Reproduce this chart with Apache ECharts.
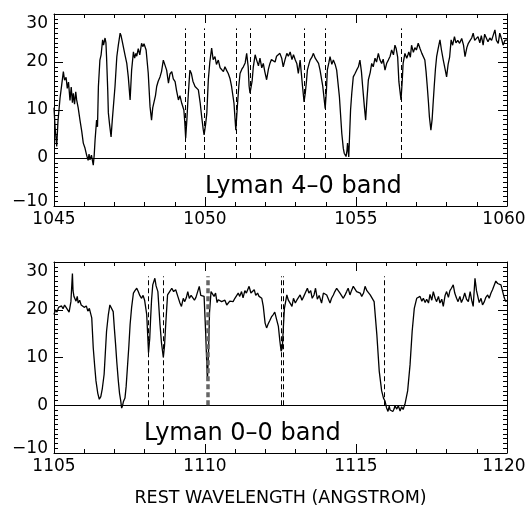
<!DOCTYPE html>
<html>
<head>
<meta charset="utf-8">
<script src="https://cdn.jsdelivr.net/npm/echarts@6.0.0/dist/echarts.min.js"></script>
<style>
html,body{margin:0;padding:0;background:#fff;}
#chart{width:531px;height:508px;}
</style>
</head>
<body>
<div id="chart"></div>
<script>
// ---- data ----
const topRange = [1045, 1060];
const bottomRange = [1105, 1120];
const fluxRange = [-10, 30];
const topLabel = 'Lyman 4–0 band';
const bottomLabel = 'Lyman 0–0 band';
const xTitle = 'REST WAVELENGTH (ANGSTROM)';

// wavelength (Å), flux
const topSpectrum = [
[1045.00,10.5],[1045.04,6.0],[1045.09,2.4],[1045.13,7.5],[1045.20,12.5],[1045.26,15.5],[1045.31,18.0],[1045.35,16.2],
[1045.40,16.8],[1045.44,14.5],[1045.48,15.8],[1045.53,12.0],[1045.57,14.8],[1045.61,11.5],[1045.64,13.5],[1045.68,11.2],
[1045.72,13.8],[1045.75,12.1],[1045.80,10.5],[1045.86,7.9],[1045.92,5.5],[1045.97,3.1],[1046.02,2.2],[1046.08,0.6],
[1046.13,-0.5],[1046.16,0.8],[1046.19,-0.4],[1046.24,0.6],[1046.30,-1.5],[1046.33,0.5],[1046.36,3.75],[1046.41,7.9],
[1046.44,6.5],[1046.47,14.9],[1046.52,20.4],[1046.56,21.5],[1046.61,24.6],[1046.64,23.5],[1046.69,25.0],[1046.72,24.0],
[1046.74,21.1],[1046.78,14.0],[1046.80,9.4],[1046.84,7.0],[1046.89,4.4],[1046.93,7.9],[1046.96,7.5],[1047.02,14.9],
[1047.08,21.1],[1047.13,23.5],[1047.19,26.0],[1047.22,25.5],[1047.26,24.3],[1047.30,23.9],[1047.35,21.5],[1047.41,19.7],
[1047.46,16.9],[1047.52,12.1],[1047.57,18.3],[1047.63,22.1],[1047.67,20.8],[1047.71,21.8],[1047.74,21.2],[1047.79,22.8],
[1047.84,21.5],[1047.90,23.9],[1047.94,23.2],[1047.98,23.8],[1048.01,23.5],[1048.05,22.5],[1048.07,22.5],[1048.12,17.7],
[1048.18,10.7],[1048.23,7.9],[1048.27,10.5],[1048.31,10.4],[1048.36,13.0],[1048.40,14.9],[1048.45,16.0],[1048.51,16.9],
[1048.56,18.0],[1048.62,20.4],[1048.68,20.8],[1048.73,18.3],[1048.79,15.6],[1048.84,17.5],[1048.90,18.0],[1048.95,16.5],
[1049.01,15.9],[1049.06,14.0],[1049.12,12.1],[1049.17,13.0],[1049.23,11.4],[1049.30,10.0],[1049.33,7.5],[1049.36,4.1],
[1049.40,8.0],[1049.43,11.5],[1049.47,15.5],[1049.50,18.3],[1049.55,17.6],[1049.60,16.0],[1049.67,14.9],[1049.72,14.5],
[1049.78,14.2],[1049.84,11.5],[1049.89,8.6],[1049.94,6.0],[1049.97,4.8],[1050.02,7.0],[1050.06,9.3],[1050.11,16.3],
[1050.16,20.0],[1050.22,22.9],[1050.27,20.5],[1050.33,21.1],[1050.38,19.5],[1050.44,20.4],[1050.50,18.8],[1050.55,19.0],
[1050.61,18.0],[1050.66,19.0],[1050.72,18.2],[1050.77,17.6],[1050.83,16.5],[1050.88,14.9],[1050.96,11.4],[1051.02,5.8],
[1051.08,11.5],[1051.12,15.0],[1051.16,17.6],[1051.22,18.5],[1051.27,19.0],[1051.33,19.8],[1051.38,21.8],[1051.43,19.0],
[1051.46,15.0],[1051.49,13.5],[1051.53,13.2],[1051.56,16.0],[1051.60,19.0],[1051.66,21.5],[1051.71,20.4],[1051.77,19.2],
[1051.82,20.8],[1051.88,18.8],[1051.93,19.7],[1051.98,18.0],[1052.04,16.3],[1052.10,18.5],[1052.15,19.7],[1052.20,20.5],
[1052.26,20.8],[1052.32,20.0],[1052.37,21.2],[1052.43,21.5],[1052.48,21.8],[1052.54,20.8],[1052.59,19.0],[1052.65,20.5],
[1052.71,21.8],[1052.76,21.2],[1052.82,22.1],[1052.88,20.5],[1052.93,21.5],[1052.99,20.4],[1053.04,19.7],[1053.09,17.6],
[1053.15,20.4],[1053.23,14.9],[1053.28,11.7],[1053.32,13.5],[1053.36,16.0],[1053.39,18.3],[1053.44,19.5],[1053.48,20.4],
[1053.54,21.0],[1053.59,21.8],[1053.65,20.8],[1053.70,21.1],[1053.76,19.7],[1053.81,18.3],[1053.90,14.9],[1053.98,10.3],
[1054.02,14.0],[1054.05,18.3],[1054.10,19.8],[1054.14,21.1],[1054.20,19.5],[1054.25,20.4],[1054.31,19.5],[1054.36,18.3],
[1054.45,12.8],[1054.53,5.1],[1054.58,2.0],[1054.61,1.0],[1054.67,0.3],[1054.70,1.5],[1054.72,3.1],[1054.76,0.2],
[1054.82,10.0],[1054.86,13.5],[1054.91,16.9],[1054.96,17.5],[1055.02,18.3],[1055.08,19.0],[1055.13,20.4],[1055.18,18.0],
[1055.22,14.9],[1055.28,10.5],[1055.32,7.9],[1055.36,12.0],[1055.41,16.3],[1055.47,17.8],[1055.52,19.7],[1055.57,19.0],
[1055.63,20.8],[1055.68,20.0],[1055.74,21.8],[1055.79,20.5],[1055.85,19.7],[1055.90,20.6],[1055.96,18.3],[1056.02,19.8],
[1056.07,20.4],[1056.13,21.2],[1056.18,22.5],[1056.24,21.5],[1056.29,23.5],[1056.33,22.8],[1056.38,21.0],[1056.42,15.9],
[1056.49,12.1],[1056.53,16.0],[1056.56,19.7],[1056.62,21.8],[1056.68,20.8],[1056.72,21.5],[1056.75,22.1],[1056.80,21.0],
[1056.84,23.5],[1056.90,22.0],[1056.95,23.0],[1057.00,22.5],[1057.06,23.9],[1057.12,22.8],[1057.18,21.8],[1057.23,21.5],
[1057.28,20.4],[1057.32,18.0],[1057.36,14.9],[1057.40,11.5],[1057.43,8.6],[1057.48,5.8],[1057.52,8.0],[1057.55,11.0],
[1057.59,14.9],[1057.63,18.5],[1057.67,21.1],[1057.72,22.8],[1057.78,24.6],[1057.83,22.5],[1057.89,20.4],[1057.95,18.5],
[1058.00,16.9],[1058.05,19.5],[1058.10,21.0],[1058.15,24.6],[1058.20,23.5],[1058.26,25.3],[1058.31,24.0],[1058.37,24.5],
[1058.43,23.9],[1058.50,24.9],[1058.56,23.5],[1058.61,21.1],[1058.67,23.0],[1058.72,23.9],[1058.78,24.5],[1058.83,25.0],
[1058.88,26.0],[1058.93,24.5],[1058.99,24.8],[1059.04,25.3],[1059.10,24.0],[1059.15,25.5],[1059.21,23.5],[1059.26,25.8],
[1059.32,26.0],[1059.37,24.2],[1059.43,25.0],[1059.49,24.5],[1059.54,25.5],[1059.60,26.7],[1059.65,24.5],[1059.71,23.9],
[1059.76,26.0],[1059.82,24.8],[1059.87,23.5],[1059.93,24.5],[1060.00,24.6]
];

const bottomSpectrum = [
[1105.00,19.0],[1105.05,20.0],[1105.10,19.5],[1105.15,20.5],[1105.20,20.3],[1105.25,20.8],[1105.30,20.2],[1105.35,21.0],
[1105.40,20.5],[1105.45,20.7],[1105.50,19.5],[1105.56,21.7],[1105.61,27.6],[1105.63,24.0],[1105.66,22.8],[1105.70,23.2],
[1105.73,21.8],[1105.77,22.8],[1105.80,21.4],[1105.85,22.0],[1105.90,21.0],[1105.95,21.3],[1106.00,20.5],[1106.03,20.3],
[1106.07,20.8],[1106.12,19.7],[1106.17,20.3],[1106.21,20.0],[1106.25,18.3],[1106.30,12.0],[1106.35,8.0],[1106.39,5.1],
[1106.45,2.5],[1106.50,1.25],[1106.55,1.8],[1106.60,3.5],[1106.66,6.5],[1106.70,11.0],[1106.74,15.5],[1106.80,19.0],
[1106.85,21.0],[1106.90,21.4],[1106.96,19.6],[1107.00,16.0],[1107.04,12.7],[1107.08,9.0],[1107.13,5.1],[1107.17,2.5],
[1107.21,0.9],[1107.24,-0.6],[1107.27,-0.1],[1107.30,0.8],[1107.35,1.5],[1107.39,4.0],[1107.43,7.8],[1107.48,12.5],
[1107.52,16.9],[1107.57,20.5],[1107.63,23.5],[1107.68,24.0],[1107.74,24.5],[1107.79,23.8],[1107.84,23.0],[1107.90,22.4],
[1107.95,23.0],[1108.00,22.0],[1108.07,19.0],[1108.13,11.0],[1108.17,14.0],[1108.20,18.3],[1108.23,22.0],[1108.27,25.2],
[1108.34,26.6],[1108.38,25.0],[1108.44,23.8],[1108.51,16.9],[1108.56,13.0],[1108.62,10.0],[1108.66,12.5],[1108.70,17.0],
[1108.76,23.1],[1108.83,23.8],[1108.90,24.5],[1108.96,23.8],[1109.03,24.2],[1109.10,22.8],[1109.17,21.4],[1109.22,20.7],
[1109.28,22.4],[1109.33,21.7],[1109.38,22.5],[1109.43,23.8],[1109.48,22.4],[1109.54,23.0],[1109.60,23.1],[1109.65,22.0],
[1109.70,22.6],[1109.75,22.3],[1109.81,24.9],[1109.86,23.0],[1109.92,23.1],[1109.97,22.8],[1110.02,15.5],[1110.08,5.1],
[1110.12,12.0],[1110.15,19.5],[1110.20,23.8],[1110.25,24.2],[1110.30,22.8],[1110.35,23.5],[1110.40,21.5],[1110.44,22.1],
[1110.50,22.0],[1110.55,21.7],[1110.61,21.4],[1110.66,22.0],[1110.72,21.0],[1110.77,21.4],[1110.82,21.8],[1110.88,22.1],
[1110.93,21.7],[1110.99,22.4],[1111.04,22.1],[1111.10,23.5],[1111.15,22.8],[1111.21,23.8],[1111.26,22.5],[1111.32,24.0],
[1111.37,23.5],[1111.46,24.9],[1111.52,23.5],[1111.57,23.8],[1111.63,24.2],[1111.68,23.0],[1111.74,23.5],[1111.79,22.8],
[1111.88,22.4],[1111.93,20.7],[1111.99,17.2],[1112.04,16.2],[1112.09,17.0],[1112.15,17.8],[1112.20,18.5],[1112.26,19.0],
[1112.31,19.5],[1112.37,18.0],[1112.43,16.5],[1112.48,13.4],[1112.52,11.3],[1112.56,12.0],[1112.60,17.0],[1112.63,20.3],
[1112.71,23.1],[1112.76,22.0],[1112.82,21.7],[1112.88,20.7],[1112.93,22.4],[1112.99,21.4],[1113.04,22.0],[1113.10,22.4],
[1113.15,23.1],[1113.21,22.0],[1113.27,22.8],[1113.32,23.5],[1113.39,24.5],[1113.44,23.5],[1113.50,24.0],[1113.55,22.4],
[1113.61,23.1],[1113.66,24.5],[1113.72,22.2],[1113.78,23.0],[1113.86,21.4],[1113.92,23.5],[1113.97,23.8],[1114.03,23.1],
[1114.08,22.8],[1114.14,21.4],[1114.19,22.4],[1114.25,23.1],[1114.30,23.8],[1114.36,24.5],[1114.41,24.2],[1114.47,23.5],
[1114.52,23.1],[1114.58,22.4],[1114.63,23.0],[1114.69,23.8],[1114.74,24.5],[1114.80,23.1],[1114.85,24.0],[1114.91,24.9],
[1114.96,24.5],[1115.02,23.8],[1115.08,24.2],[1115.14,23.5],[1115.19,22.8],[1115.25,23.5],[1115.30,24.9],[1115.36,24.0],
[1115.41,23.8],[1115.47,23.1],[1115.53,22.8],[1115.60,21.7],[1115.69,14.8],[1115.77,7.1],[1115.85,3.0],[1115.91,1.5],
[1115.96,0.9],[1116.01,-0.5],[1116.06,-1.3],[1116.10,-0.2],[1116.13,-1.0],[1116.18,-0.6],[1116.22,-1.3],[1116.26,-0.8],
[1116.29,-0.1],[1116.35,-0.8],[1116.40,-0.1],[1116.46,-1.2],[1116.51,-0.3],[1116.56,-0.9],[1116.62,0.2],[1116.71,3.0],
[1116.79,8.5],[1116.86,15.5],[1116.93,20.3],[1117.01,22.4],[1117.07,22.0],[1117.12,22.8],[1117.18,21.8],[1117.23,22.4],
[1117.29,21.5],[1117.34,22.2],[1117.40,21.4],[1117.45,23.2],[1117.51,22.0],[1117.56,23.8],[1117.62,22.4],[1117.67,21.7],
[1117.73,22.8],[1117.78,21.4],[1117.84,22.2],[1117.89,20.7],[1117.95,23.0],[1118.00,23.8],[1118.06,22.6],[1118.11,24.0],
[1118.16,24.5],[1118.22,25.2],[1118.27,23.5],[1118.33,22.4],[1118.38,21.7],[1118.44,22.8],[1118.49,21.5],[1118.55,22.4],
[1118.60,23.5],[1118.66,22.2],[1118.72,21.7],[1118.78,23.8],[1118.83,22.0],[1118.88,20.7],[1118.94,26.6],[1118.99,24.0],
[1119.03,23.8],[1119.08,21.5],[1119.14,22.4],[1119.19,21.0],[1119.25,21.7],[1119.30,22.6],[1119.36,23.1],[1119.41,22.4],
[1119.47,23.5],[1119.52,24.2],[1119.58,24.5],[1119.63,26.0],[1119.69,25.5],[1119.74,25.9],[1119.80,25.2],[1119.85,24.9],
[1119.91,22.5],[1119.96,21.7],[1120.00,22.0]
];

// positions of dashed line markers (Å) and their top (flux)
const topMarkers = [1049.36, 1049.97, 1051.03, 1051.49, 1053.29, 1053.98, 1056.49];
const bottomMarkers = [1108.12, 1108.63, 1112.52, 1112.59, 1115.92];
const bottomGreyMarkers = [1110.08];
const markerTop = 27;

// ---- chart ----
const FONT = 'DejaVu Sans';
const chart = echarts.init(document.getElementById('chart'), null, {renderer: 'canvas'});

function xAxes(gi, range, name) {
  const common = {
    gridIndex: gi, type: 'value', min: range[0], max: range[1], interval: 5,
    axisLine: {onZero: false, lineStyle: {color: '#000', width: 1}},
    axisTick: {inside: true, length: 9, lineStyle: {color: '#000'}},
    minorTick: {show: true, splitNumber: 5, length: 4, lineStyle: {color: '#000'}},
    splitLine: {show: false}, minorSplitLine: {show: false}
  };
  return [
    Object.assign({}, common, {
      position: 'bottom',
      name: name || '', nameLocation: 'middle', nameGap: 36,
      nameTextStyle: {fontFamily: FONT, fontSize: 17.5, color: '#000'},
      axisLabel: {
        margin: 5, fontFamily: FONT, fontSize: 17, color: '#000',
        formatter: v => v === range[1] ? '{r|' + v + '}' : '{n|' + v + '}',
        rich: {
          n: {fontFamily: FONT, fontSize: 17, color: '#000'},
          r: {fontFamily: FONT, fontSize: 17, color: '#000', padding: [0, 6, 0, 0]}
        }
      }
    }),
    Object.assign({}, common, {position: 'top', axisLabel: {show: false}})
  ];
}
function yAxes(gi) {
  const common = {
    gridIndex: gi, type: 'value', min: fluxRange[0], max: fluxRange[1], interval: 10,
    axisLine: {onZero: false, lineStyle: {color: '#000', width: 1}},
    axisTick: {inside: true, length: 9, lineStyle: {color: '#000'}},
    minorTick: {show: true, splitNumber: 10, length: 4, lineStyle: {color: '#000'}},
    splitLine: {show: false}, minorSplitLine: {show: false}
  };
  return [
    Object.assign({}, common, {
      position: 'left',
      axisLabel: {
        margin: 6, fontFamily: FONT, fontSize: 17, color: '#000',
        formatter: v => {
          const s = String(v).replace('-', '−');
          if (v === fluxRange[1]) return '{t|' + s + '}';
          if (v === fluxRange[0]) return '{b|' + s + '}';
          return '{n|' + s + '}';
        },
        rich: {
          n: {fontFamily: FONT, fontSize: 17, color: '#000'},
          t: {fontFamily: FONT, fontSize: 17, color: '#000', padding: [20, 0, 0, 0]},
          b: {fontFamily: FONT, fontSize: 17, color: '#000', padding: [0, 0, 8, 0]}
        }
      }
    }),
    Object.assign({}, common, {position: 'right', axisLabel: {show: false}})
  ];
}

function markerLines(xs, range) {
  const d = [[{coord: [range[0], 0], lineStyle: {type: 'solid', color: '#000', width: 1}},
              {coord: [range[1], 0]}]];
  xs.forEach(x => d.push([{coord: [x, 0]}, {coord: [x, markerTop]}]));
  return d;
}

const option = {
  backgroundColor: '#fff',
  animation: false,
  grid: [
    {left: 54, top: 14, width: 453, height: 192},
    {left: 54, top: 262, width: 453, height: 192}
  ],
  xAxis: [].concat(xAxes(0, topRange), xAxes(1, bottomRange, xTitle)),
  yAxis: [].concat(yAxes(0), yAxes(1)),
  series: [
    {
      type: 'line', xAxisIndex: 0, yAxisIndex: 0, data: topSpectrum,
      showSymbol: false, symbol: 'none', lineStyle: {color: '#000', width: 1.3},
      silent: true,
      markLine: {
        silent: true, symbol: ['none', 'none'], label: {show: false},
        lineStyle: {color: '#000', width: 1, type: [5, 3]},
        data: markerLines(topMarkers, topRange)
      }
    },
    {
      type: 'line', xAxisIndex: 2, yAxisIndex: 2, data: bottomSpectrum,
      showSymbol: false, symbol: 'none', lineStyle: {color: '#000', width: 1.3},
      silent: true,
      markLine: {
        silent: true, symbol: ['none', 'none'], label: {show: false},
        lineStyle: {color: '#000', width: 1, type: [5, 3]},
        data: markerLines(bottomMarkers, bottomRange).concat(
          bottomGreyMarkers.map(x => [{coord: [x, 0], lineStyle: {color: '#666', width: 3.5, type: [5, 3]}},
                                      {coord: [x, markerTop]}]))
      }
    }
  ],
  graphic: [
    {type: 'text', left: 205, top: 175,
     style: {text: topLabel, font: '24px "DejaVu Sans"', fill: '#000'}},
    {type: 'text', left: 144, top: 422,
     style: {text: bottomLabel, font: '24px "DejaVu Sans"', fill: '#000'}}
  ]
};
chart.setOption(option);
</script>
</body>
</html>
